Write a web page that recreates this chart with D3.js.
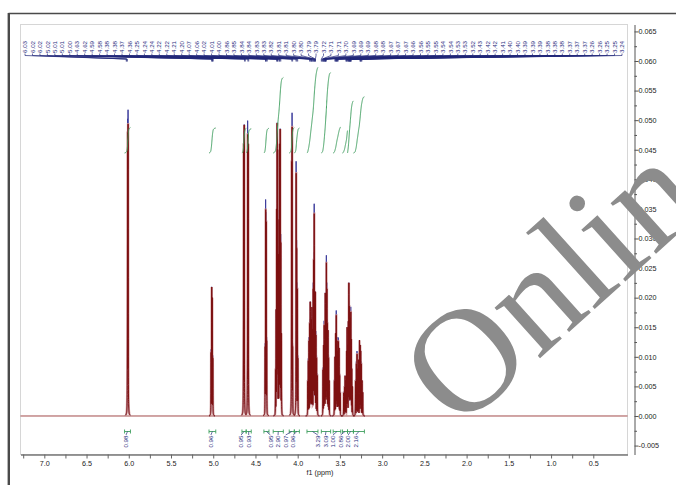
<!DOCTYPE html>
<html><head><meta charset="utf-8">
<script src="https://cdn.jsdelivr.net/npm/d3@7"></script>
<style>
html,body{margin:0;padding:0;background:#fff;}
svg{display:block;}
</style></head><body>
<svg id="c" width="676" height="485"></svg>
<script>
// ---------- DATA ----------
const xTicks = [7.0, 6.5, 6.0, 5.5, 5.0, 4.5, 4.0, 3.5, 3.0, 2.5, 2.0, 1.5, 1.0, 0.5];
const yTicks = [-0.005, 0.000, 0.005, 0.010, 0.015, 0.020, 0.025, 0.030, 0.035, 0.040, 0.045, 0.050, 0.055, 0.060, 0.065];

const peakLabels = ["6.03","6.02","6.02","5.02","5.01","5.01","5.00","4.63","4.62","4.59","4.58",
  "4.38","4.38","4.37","4.36","4.25","4.24","4.24","4.22","4.22","4.21","4.20","4.07","4.06",
  "4.02","4.01","4.00","3.86","3.85","3.84","3.84","3.83","3.83","3.82","3.81","3.81","3.80",
  "3.80","3.79","3.79","3.72","3.71","3.71","3.70","3.69","3.69","3.69","3.68","3.68","3.67",
  "3.67","3.67","3.66","3.56","3.55","3.55","3.54","3.54","3.53","3.53","3.52","3.43","3.42",
  "3.42","3.41","3.40","3.40","3.39","3.39","3.39","3.38","3.38","3.38","3.37","3.37","3.37",
  "3.26","3.26","3.25","3.25","3.24"];

// multiplets: [ppm, intensity]
const m600 = [[6.014,0.0490],[6.008,0.0505]];
const m501 = [[5.025,0.0110],[5.018,0.0218],[5.012,0.0200],[5.005,0.0100]];
const m460 = [[4.640,0.0470],[4.633,0.0492],[4.592,0.0487],[4.585,0.0460]];
const m437 = [[4.385,0.0120],[4.379,0.0357],[4.373,0.0336],[4.367,0.0130]];
const m422 = [[4.262,0.0080],[4.255,0.0180],[4.249,0.0350],[4.243,0.0495],[4.237,0.0450],[4.228,0.0280],
              [4.220,0.0340],[4.213,0.0460],[4.207,0.0485],[4.200,0.0300],[4.193,0.0140]];
const m406 = [[4.072,0.0440],[4.066,0.0500],[4.060,0.0120]];
const m401 = [[4.018,0.0420],[4.012,0.0290],[4.004,0.0220],[3.998,0.0100]];
const m381 = [[3.880,0.0060],[3.874,0.0095],[3.866,0.0130],[3.858,0.0160],[3.851,0.0193],[3.845,0.0140],
              [3.838,0.0167],[3.831,0.0184],[3.824,0.0150],[3.816,0.0220],[3.810,0.0270],[3.804,0.0350],
              [3.797,0.0200],[3.791,0.0210],[3.784,0.0140],[3.776,0.0100],[3.768,0.0070]];
const m367 = [[3.700,0.0080],[3.693,0.0120],[3.686,0.0157],[3.680,0.0130],[3.673,0.0208],[3.667,0.0180],
              [3.660,0.0265],[3.654,0.0220],[3.648,0.0160],[3.641,0.0145],[3.634,0.0100],[3.627,0.0060]];
const m354 = [[3.565,0.0060],[3.558,0.0100],[3.550,0.0140],[3.543,0.0174],[3.537,0.0130],[3.530,0.0110],
              [3.523,0.0130],[3.517,0.0128],[3.510,0.0115],[3.503,0.0070],[3.497,0.0040]];
const m340 = [[3.455,0.0040],[3.445,0.0050],[3.438,0.0068],[3.430,0.0060],[3.420,0.0110],[3.414,0.0150],
              [3.408,0.0120],[3.400,0.0160],[3.394,0.0225],[3.389,0.0190],[3.383,0.0140],[3.377,0.0170],
              [3.371,0.0180],[3.366,0.0130],[3.360,0.0080],[3.352,0.0050]];
const m327 = [[3.315,0.0060],[3.305,0.0090],[3.297,0.0107],[3.288,0.0080],[3.280,0.0095],[3.268,0.0128],
              [3.260,0.0120],[3.254,0.0110],[3.247,0.0090],[3.238,0.0060],[3.230,0.0040]];

const integralFrom  = [6.05, 5.05, 4.66, 4.61, 4.40, 4.29, 4.10, 4.04, 3.89, 3.72, 3.58, 3.47, 3.41, 3.34];
const integralTo    = [5.98, 4.97, 4.61, 4.55, 4.34, 4.17, 4.04, 3.98, 3.76, 3.61, 3.49, 3.41, 3.34, 3.21];
const integralValue = [0.98, 0.96, 0.95, 0.93, 0.95, 2.90, 0.97, 0.96, 3.29, 3.09, 1.00, 0.86, 2.00, 2.16];

// ---------- CHART ----------
const svg = d3.select('#c');
const x = d3.scaleLinear().domain([7.282, 0.095]).range([20.5, 627.5]);
const y = d3.scaleLinear().domain([-0.00651, 0.06617]).range([454.5, 24.5]);
const FONT = 'Liberation Sans, Arial, sans-serif';

// outer frame
svg.append('line').attr('x1',8.5).attr('x2',676).attr('y1',13.5).attr('y2',13.5)
  .attr('stroke','#4a4a4a').attr('stroke-width',1.6);
svg.append('line').attr('x1',8.8).attr('x2',8.8).attr('y1',13).attr('y2',485)
  .attr('stroke','#4a4a4a').attr('stroke-width',2.4);

// plot frame
svg.append('rect').attr('x',20.5).attr('y',24.5).attr('width',607).attr('height',430)
  .attr('fill','none').attr('stroke','#d6d6d6');

// x axis
const gx = svg.append('g').attr('transform','translate(0,454.5)')
  .call(d3.axisBottom(x).tickValues(xTicks).tickFormat(d3.format('.1f')).tickSize(4).tickSizeOuter(0).tickPadding(2));
svg.append('g').attr('transform','translate(0,454.5)')
  .call(d3.axisBottom(x).tickValues(xTicks.map(v=>v+0.25)).tickFormat('').tickSize(4).tickSizeOuter(0))
  .select('.domain').remove();
gx.select('.domain').attr('stroke','#777').attr('stroke-width',1.3);
svg.selectAll('g .tick line').attr('stroke','#666');
gx.selectAll('text').attr('font-size',7.2).attr('font-family',FONT).attr('fill','#222');
svg.append('text').attr('x',320).attr('y',475).attr('text-anchor','middle')
  .attr('font-size',7.2).attr('font-family',FONT).attr('fill','#222').text('f1 (ppm)');

// y axis
const fmtY = v => d3.format('.3f')(v).replace('\u2212','-');
const gy = svg.append('g').attr('transform','translate(634.5,0)')
  .call(d3.axisRight(y).tickValues(yTicks).tickFormat(fmtY).tickSize(4).tickSizeOuter(0).tickPadding(0));
const gy2 = svg.append('g').attr('transform','translate(634.5,0)')
  .call(d3.axisRight(y).tickValues(yTicks.slice(0,-1).map(v=>v+0.0025)).tickFormat('').tickSize(2.5).tickSizeOuter(0));
gy2.select('.domain').remove();
gy.select('.domain').attr('stroke','#555');
gy.selectAll('.tick line').attr('stroke','#555');
gy2.selectAll('.tick line').attr('stroke','#555');
gy.selectAll('text').attr('font-size',7.2).attr('font-family',FONT).attr('fill','#222');

// spectrum (each line drawn as a narrow Lorentzian; overlapping lines take the envelope)
const multiplets = [m600, m501, m460, m437, m422, m406, m401, m381, m367, m354, m340, m327];
const allPeaks = multiplets.flat();
const gamma = 0.0013;
const line = d3.line().x(d=>x(d[0])).y(d=>y(d[1]));
function specPts(pk, scale, shift){
  const lo = d3.min(pk,d=>d[0]) - 0.025, hi = d3.max(pk,d=>d[0]) + 0.025;
  return d3.range(hi, lo, -0.0004).map(p => [p,
    d3.max(pk, d => d[1]*scale*gamma*gamma/((p-d[0]-shift)**2 + gamma*gamma))]);
}
const gs = svg.append('g');
gs.append('path').attr('d', line([[7.282,0],[0.095,0]])).attr('stroke','#a24a4a').attr('stroke-width',1).attr('fill','none');
multiplets.forEach(pk=>{
  gs.append('path').attr('d', line(specPts(pk,1.025,0.0006))).attr('fill','none')
    .attr('stroke','#3c3c9c').attr('stroke-width',1);
});
multiplets.forEach(pk=>{
  gs.append('path').attr('d', line(specPts(pk,1,0))).attr('fill','none')
    .attr('stroke','#c98a8a').attr('stroke-width',2.4).attr('stroke-opacity',0.8);
});
multiplets.forEach(pk=>{
  gs.append('path').attr('d', line(specPts(pk,1,0))).attr('fill','none')
    .attr('stroke','#7d1010').attr('stroke-width',1);
});

// integral curves
const intBase = 0.04445, intPerH = 0.0044, gI = 0.004;
const gi = svg.append('g');
integralFrom.forEach((p1,i)=>{
  const p2 = integralTo[i];
  const pk = allPeaks.filter(d => d[0] <= p1 && d[0] >= p2);
  const A = p => d3.sum(pk, d => d[1]*(Math.atan((d[0]-p)/gI) - Math.atan((d[0]-p1)/gI)));
  const tot = A(p2);
  const pts = d3.range(p1, p2, -0.0008).concat([p2]).map(p => [p, intBase + integralValue[i]*intPerH*A(p)/tot]);
  gi.append('path').attr('d', line(pts)).attr('fill','none').attr('stroke','#3f9f5f').attr('stroke-width',1);
});

// integral brackets & labels
const centers = integralFrom.map((f,i)=> (x(f)+x(integralTo[i]))/2);
const groups=[]; let cur=[0];
for(let i=1;i<centers.length;i++){ if(centers[i]-centers[i-1] < 15) cur.push(i); else {groups.push(cur); cur=[i];} }
groups.push(cur);
const labelX=[];
groups.forEach(g=>{ const m=d3.mean(g,i=>centers[i]); g.forEach((i,k)=> labelX[i]=m-1.5+(k-(g.length-1)/2)*7.6); });
const gb = svg.append('g');
integralFrom.forEach((p1,i)=>{
  const a = x(p1), b = x(integralTo[i]);
  gb.append('path').attr('d',`M${a},429.5V433.5M${a},431.5H${b}M${b},429.5V433.5`)
    .attr('stroke','#3f9f5f').attr('stroke-width',0.9).attr('fill','none');
  gb.append('path').attr('d',`M${centers[i]},431.5L${labelX[i]},435`)
    .attr('stroke','#2b2f80').attr('stroke-width',0.7).attr('fill','none');
  gb.append('text').attr('transform',`translate(${labelX[i]},435.5) rotate(-90)`)
    .attr('dy','0.35em').attr('text-anchor','end').attr('font-size',6.2).attr('font-family',FONT)
    .attr('fill','#2b2f80').text(integralValue[i].toFixed(2));
});

// peak labels
const nL = peakLabels.length;
const lx = i => 25 + i*(597/(nL-1));
const gp = svg.append('g');
gp.selectAll('path').data(peakLabels).join('path')
  .attr('d',(t,i)=>`M${lx(i)},53.5V55.5L${x(+t)},59V61.5`)
  .attr('fill','none').attr('stroke','#23287a').attr('stroke-width',0.7);
gp.selectAll('text').data(peakLabels).join('text')
  .attr('transform',(t,i)=>`translate(${lx(i)},53) rotate(-90)`)
  .attr('dy','0.35em').attr('font-size',6.2).attr('font-family',FONT).attr('fill','#2b2f80')
  .text(t=>t);

// watermark
svg.append('text').attr('transform','translate(458,432) rotate(-42)')
  .attr('font-family','Liberation Serif, Times New Roman, serif').attr('font-size',148)
  .attr('fill','#8c8c8c').text('Online');
</script>
</body></html>
